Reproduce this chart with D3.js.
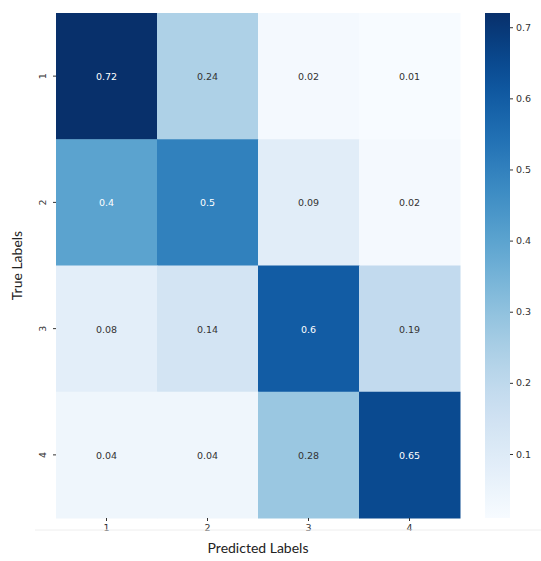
<!DOCTYPE html><html><head><meta charset="utf-8"><script src="https://cdn.jsdelivr.net/npm/d3@7"></script>
<style>body{margin:0;background:#fff}</style></head><body><svg id="c" width="541" height="561"></svg>
<script>
const labels=["1","2","3","4"];
const values=[[0.72,0.24,0.02,0.01],[0.4,0.5,0.09,0.02],[0.08,0.14,0.6,0.19],[0.04,0.04,0.28,0.65]];
const cbTicks=[0.1,0.2,0.3,0.4,0.5,0.6,0.7];
const vmin=0.01,vmax=0.72;
const svg=d3.select("#c");
const L=56,R=460,T=13,B=518;
const x=d3.scaleBand().domain(labels).range([L,R]);
const y=d3.scaleBand().domain(labels).range([T,B]);
const col=v=>d3.interpolateBlues((v-vmin)/(vmax-vmin));
const cells=[];values.forEach((r,i)=>r.forEach((v,j)=>cells.push({r:labels[i],c:labels[j],v})));
svg.selectAll("rect.cell").data(cells).join("rect").attr("x",d=>x(d.c)).attr("y",d=>y(d.r))
 .attr("width",x.bandwidth()+0.5).attr("height",y.bandwidth()+0.5).attr("fill",d=>col(d.v));
svg.selectAll("text.v").data(cells).join("text").attr("x",d=>x(d.c)+x.bandwidth()/2).attr("y",d=>y(d.r)+y.bandwidth()/2+4)
 .attr("text-anchor","middle").attr("font-family","DejaVu Sans").attr("font-size",9.5)
 .attr("fill",d=>d.v>0.36?"#fff":"#333").text(d=>d.v);
const gx=svg.append("g").attr("transform",`translate(0,${B})`).call(d3.axisBottom(x).tickSize(3));
gx.select(".domain").remove();
gx.selectAll("text").attr("font-family","DejaVu Sans").attr("font-size",9.5).attr("fill","#333");
gx.selectAll("line").attr("stroke","#333");
const gy=svg.append("g").attr("transform",`translate(${L},0)`).call(d3.axisLeft(y).tickSize(3));
gy.select(".domain").remove();
gy.selectAll("line").attr("stroke","#333");
gy.selectAll(".tick text").attr("font-family","DejaVu Sans").attr("font-size",9.5).attr("fill","#333")
 .attr("transform","rotate(-90)").attr("x",0).attr("y",-10).attr("dy","0").attr("text-anchor","middle");
svg.append("line").attr("x1",35).attr("x2",541).attr("y1",530).attr("y2",530).attr("stroke","#eee");
// colorbar
const cx=485,cw=25;
const cy=d3.scaleLinear().domain([vmin,vmax]).range([B,T]);
const defs=svg.append("defs");const g=defs.append("linearGradient").attr("id","cb").attr("x1",0).attr("x2",0).attr("y1",1).attr("y2",0);
d3.range(0,1.0001,0.05).forEach(t=>g.append("stop").attr("offset",t).attr("stop-color",col(vmin+t*(vmax-vmin))));
svg.append("rect").attr("x",cx).attr("y",T).attr("width",cw).attr("height",B-T).attr("fill","url(#cb)");
const gc=svg.append("g").attr("transform",`translate(${cx+cw},0)`).call(d3.axisRight(cy).tickValues(cbTicks).tickSize(3).tickFormat(d3.format(".1f")));
gc.select(".domain").remove();gc.selectAll("line").attr("stroke","#333");
gc.selectAll("text").attr("font-family","DejaVu Sans").attr("font-size",9.5).attr("fill","#333");
svg.append("text").attr("x",(L+R)/2).attr("y",553).attr("text-anchor","middle").attr("font-family","Lato").attr("font-size",14).attr("fill","#222").text("Predicted Labels");
svg.append("text").attr("transform",`translate(22,${(T+B)/2}) rotate(-90)`).attr("text-anchor","middle").attr("font-family","Lato").attr("font-size",14).attr("fill","#222").text("True Labels");
</script></body></html>
